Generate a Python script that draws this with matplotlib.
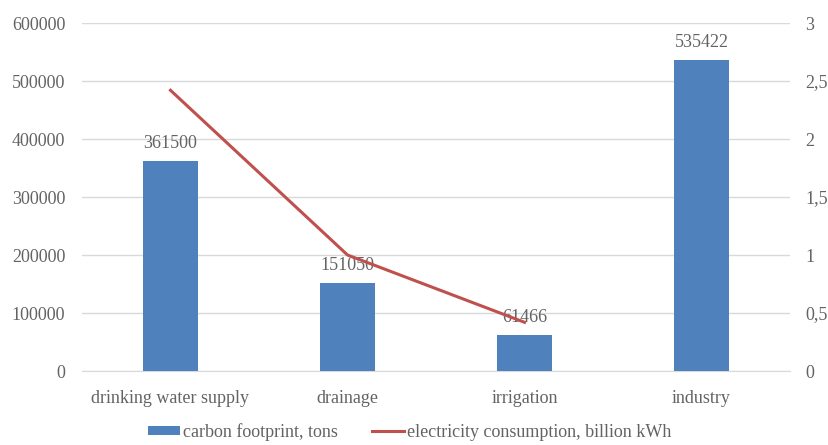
import numpy as np
import matplotlib
matplotlib.use("Agg")
import matplotlib.pyplot as plt
from matplotlib.ticker import FuncFormatter

categories = ["drinking water supply", "drainage", "irrigation", "industry"]
carbon = [361500, 151050, 61466, 535422]
electricity = [2.42, 1.0, 0.42, np.nan]

plt.rcParams['font.family'] = ['Liberation Serif', 'DejaVu Serif']
grey = "#636363"
fs = 13

fig = plt.figure(figsize=(8.29, 4.45), dpi=100)
ax = fig.add_axes([82/829, 1-371/445, (790-82)/829, (371-23)/445])
ax2 = ax.twinx()

x = np.arange(len(categories))
bars = ax.bar(x, carbon, width=0.31, color="#4F81BD", zorder=3,
              label="carbon footprint, tons")
for xi, v in zip(x, carbon):
    ax.annotate(str(v), (xi, v), xytext=(0, 7), textcoords="offset points",
                ha="center", va="bottom", fontsize=fs, color=grey, zorder=4)

ax.set_ylim(0, 600000)
ax.set_xlim(-0.5, len(categories) - 0.5)
ax.set_yticks(np.arange(0, 600001, 100000))
ax.yaxis.set_major_formatter(FuncFormatter(lambda v, p: f"{int(v)}"))
ax.grid(axis="y", color="#d9d9d9", linewidth=1, zorder=0)
ax.set_xticks(x)
ax.set_xticklabels(categories)
for s in ax.spines.values():
    s.set_visible(False)
ax.spines["bottom"].set_visible(True)
ax.spines["bottom"].set_color("#d9d9d9")
ax.tick_params(axis="both", length=0, colors=grey, labelsize=fs)
ax.tick_params(axis="y", pad=12)
ax.tick_params(axis="x", pad=14)

line, = ax2.plot(x, electricity, color="#C0504D", linewidth=2.2, zorder=5,
                 label="electricity consumption, billion kWh")
ax2.set_ylim(0, 3)
ax2.set_yticks(np.arange(0, 3.01, 0.5))
ax2.yaxis.set_major_formatter(FuncFormatter(lambda v, p: f"{v:g}".replace(".", ",")))
for s in ax2.spines.values():
    s.set_visible(False)
ax2.tick_params(axis="y", length=0, colors=grey, labelsize=fs, pad=11)

fig.legend([bars, line], ["carbon footprint, tons", "electricity consumption, billion kWh"],
           loc="center", bbox_to_anchor=(0.494, 1-432/445), ncol=2, frameon=False,
           fontsize=fs, labelcolor=grey, handlelength=1.8, handleheight=0.4,
           handletextpad=0.15, columnspacing=1.9)

fig.savefig("out.png", dpi=100)
